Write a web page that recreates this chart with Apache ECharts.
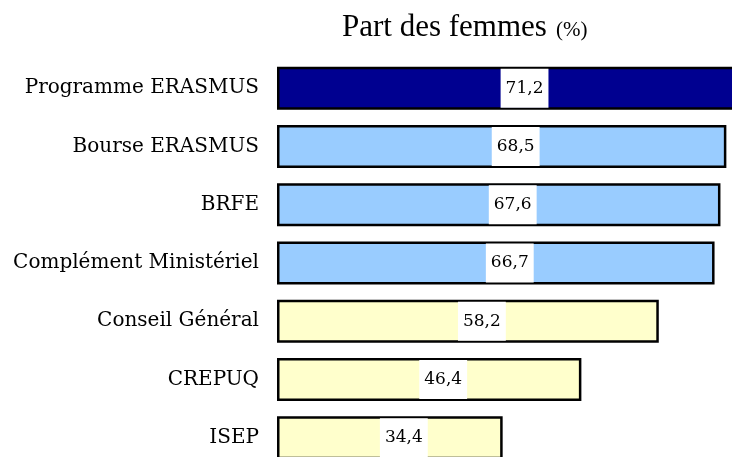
<!DOCTYPE html>
<html lang="fr">
<head>
    <meta charset="UTF-8">
    <title>Part des femmes</title>
    <script src="https://cdn.jsdelivr.net/npm/echarts/dist/echarts.min.js"></script>
    <style>
        body { margin: 0; background: #fff; }
        #chart { width: 732px; height: 457px; }
    </style>
</head>
<body>
<div id="chart"></div>
<script>
    // données
    const categories = ['Programme ERASMUS', 'Bourse ERASMUS', 'BRFE', 'Complément Ministériel',
        'Conseil Général', 'CREPUQ', 'ISEP'];
    const values = [71.2, 68.5, 67.6, 66.7, 58.2, 46.4, 34.4];

    // couleur selon le groupe de barres
    function barColor(i) {
        if (i === 0) return '#000090';
        if (i <= 3) return '#99ccff';
        return '#ffffcc';
    }

    const chart = echarts.init(document.getElementById('chart'));

    const option = {
        animation: false,
        title: {
            text: '{a|Part des femmes} {b|(%)}',
            left: 337,
            top: 7,
            textStyle: {
                rich: {
                    a: { fontFamily: 'Liberation Serif', fontSize: 31, fontWeight: 'normal', color: '#000' },
                    b: { fontFamily: 'Liberation Serif', fontSize: 21, fontWeight: 'normal', color: '#000', padding: [6, 0, 0, 4] }
                }
            }
        },
        grid: { left: 277, top: 59, height: 408, width: 492, outerBoundsMode: 'none' },
        xAxis: {
            type: 'value',
            min: 0,
            max: 75,
            show: false
        },
        yAxis: {
            type: 'category',
            data: categories,
            inverse: true,
            axisLine: { show: false },
            axisTick: { show: false },
            axisLabel: {
                margin: 18,
                color: '#000',
                fontFamily: 'DejaVu Serif',
                fontSize: 20,
                padding: [0, 0, 6, 0]
            }
        },
        series: [{
            type: 'bar',
            barWidth: 43,
            clip: false,
            data: values.map((v, i) => ({
                value: v,
                itemStyle: { color: barColor(i) }
            })),
            itemStyle: { borderColor: '#000', borderWidth: 2.5 },
            label: {
                show: true,
                position: 'inside',
                offset: [14, 0],
                backgroundColor: '#fff',
                padding: [11, 5],
                color: '#000',
                fontFamily: 'DejaVu Serif',
                fontSize: 17,
                formatter: p => p.value.toFixed(1).replace('.', ',')
            }
        }]
    };

    chart.setOption(option);
</script>
</body>
</html>
